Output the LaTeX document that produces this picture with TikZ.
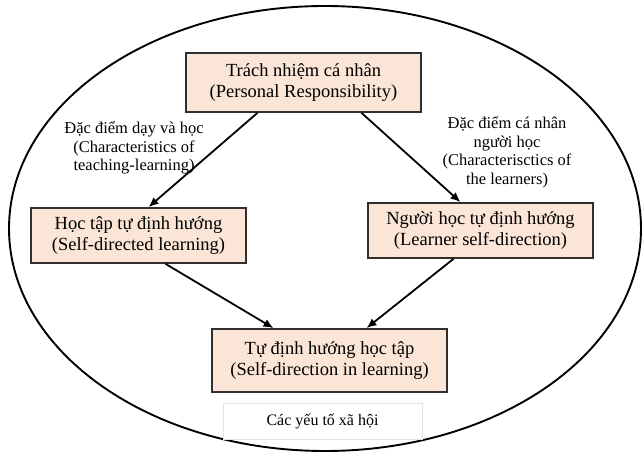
\documentclass[tikz,border=0pt]{standalone}
\usepackage{fontspec}
\setmainfont{Liberation Serif}
\usepackage{xcolor}
\usepackage{tikz}
\usetikzlibrary{arrows.meta,positioning,calc}
\definecolor{peach}{RGB}{251,229,214}
\definecolor{boxline}{RGB}{50,46,46}
\definecolor{faintline}{RGB}{225,225,225}
\tikzset{
    conceptbox/.style={
        draw=boxline,
        line width=1.7pt,
        fill=peach,
        align=center,
        inner sep=2pt,
        font=\fontsize{18.5}{20.5}\selectfont
    },
    notelabel/.style={
        align=center,
        inner sep=1pt,
        font=\fontsize{16.5}{18.5}\selectfont
    },
    socialbox/.style={
        draw=faintline,
        line width=0.6pt,
        fill=white,
        align=center,
        font=\fontsize{16}{18}\selectfont
    },
    arrow/.style={
        -{Latex[length=10pt,width=8.5pt]},
        line width=1.8pt
    }
}

\begin{document}
\begin{tikzpicture}[x=1pt, y=1pt]
    \useasboundingbox (0,0) rectangle (644,454);
    % outer context
    \draw[line width=1.9pt] (325,225.5) ellipse [x radius=316, y radius=222.5];

    \node[conceptbox, minimum width=235pt, minimum height=59pt] (resp) at (303.5,371.5)
        {Trách nhiệm cá nhân\\(Personal Responsibility)};
    \node[conceptbox, minimum width=215pt, minimum height=55pt] (sdl) at (138.5,218.5)
        {Học tập tự định hướng\\(Self-directed learning)};
    \node[conceptbox, minimum width=225pt, minimum height=55pt] (lsd) at (480.5,223.5)
        {Người học tự định hướng\\(Learner self-direction)};
    \node[conceptbox, minimum width=235pt, minimum height=63pt] (sdil) at (329.5,93.5)
        {Tự định hướng học tập\\(Self-direction in learning)};
    \node[socialbox, below=10pt of sdil, xshift=-7pt, minimum width=199pt, minimum height=36pt] (social)
        {Các yếu tố xã hội};

    \node[notelabel] (teachnote) at (134,306)
        {Đặc điểm dạy và học\\(Characteristics of\\teaching-learning)};
    \node[notelabel] (learnernote) at (507,301.5)
        {Đặc điểm cá nhân\\người học\\(Characterisctics of\\the learners)};

    \draw[arrow] ([xshift=-46pt]resp.south) -- ([xshift=10pt]sdl.north);
    \draw[arrow] ([xshift=58pt]resp.south) -- ([xshift=-20pt]lsd.north);
    \draw[arrow] ([xshift=27pt]sdl.south) -- ([xshift=-56pt]sdil.north);
    \draw[arrow] ([xshift=-27pt]lsd.south) -- ([xshift=37pt]sdil.north);
\end{tikzpicture}
\end{document}
